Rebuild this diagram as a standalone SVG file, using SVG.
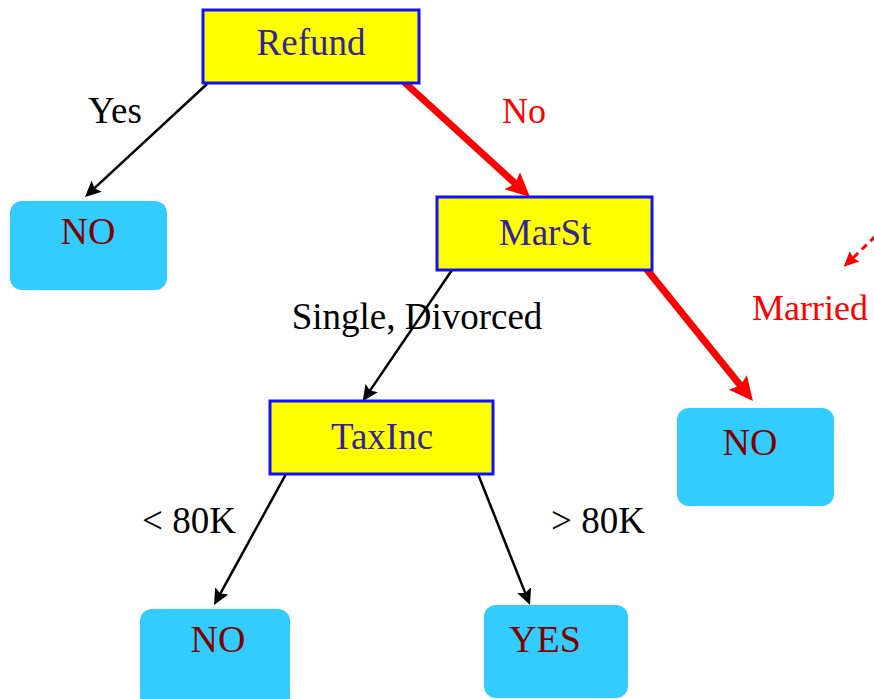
<svg xmlns="http://www.w3.org/2000/svg" width="874" height="699" viewBox="0 0 874 699">
  <style>
    .test { fill: #ffff00; stroke: #1010ff; stroke-width: 3; }
    .leaf { fill: #33ccff; }
    .tl { font-family: "Liberation Serif", "DejaVu Serif", serif; font-size: 37px; fill: #33229a; text-anchor: middle; }
    .ll { font-family: "Liberation Serif", "DejaVu Serif", serif; font-size: 38px; fill: #800000; text-anchor: middle; }
    .el { font-family: "Liberation Serif", "DejaVu Serif", serif; font-size: 37px; fill: #000000; text-anchor: middle; }
    .er { font-family: "Liberation Serif", "DejaVu Serif", serif; font-size: 36px; fill: #ff0000; }
    .edge { stroke: #000000; stroke-width: 2.5; fill: none; }
    .path { stroke: #ff0000; stroke-width: 7; fill: none; }
    .hint { stroke: #ff0000; stroke-width: 3; fill: none; stroke-dasharray: 7 5; }
  </style>
  <defs>
    <marker id="ah" markerUnits="userSpaceOnUse" viewBox="0 -8 17 16" markerWidth="17" markerHeight="16" refX="3" refY="0" orient="auto">
      <path d="M0,-7.5 L16,0 L0,7.5 L3,0 z" fill="#000000"/>
    </marker>
    <marker id="ahRed" markerUnits="userSpaceOnUse" viewBox="0 -12 25 24" markerWidth="25" markerHeight="24" refX="4" refY="0" orient="auto">
      <path d="M0,-11.5 L24,0 L0,11.5 L4,0 z" fill="#ff0000"/>
    </marker>
    <marker id="ahRedSmall" markerUnits="userSpaceOnUse" viewBox="0 -8 16 16" markerWidth="16" markerHeight="16" refX="2" refY="0" orient="auto">
      <path d="M0,-7 L15,0 L0,7 L2,0 z" fill="#ff0000"/>
    </marker>
  </defs>

  <!-- connectors -->
  <g id="connectors">
    <line class="edge" x1="207" y1="84" x2="94.5" y2="188.2" marker-end="url(#ah)"/>
    <line class="path" x1="403" y1="81" x2="515.2" y2="183.5" marker-end="url(#ahRed)"/>
    <line class="edge" x1="452" y1="270" x2="370" y2="390.6" marker-end="url(#ah)"/>
    <line class="path" x1="644" y1="266" x2="740.4" y2="385.5" marker-end="url(#ahRed)"/>
    <line class="edge" x1="286" y1="474" x2="220.3" y2="593.6" marker-end="url(#ah)"/>
    <line class="edge" x1="478" y1="474" x2="525.2" y2="592.9" marker-end="url(#ah)"/>
    <line class="hint" x1="884" y1="228" x2="853.1" y2="257.8" marker-end="url(#ahRedSmall)"/>
  </g>

  <!-- edge labels -->
  <g id="edge-labels">
    <text class="el" x="115" y="123">Yes</text>
    <text class="er" x="524" y="123" text-anchor="middle">No</text>
    <text class="el" x="417" y="329">Single, Divorced</text>
    <text class="er" x="752" y="320">Married</text>
    <text class="el" x="189" y="533">&lt; 80K</text>
    <text class="el" x="598" y="533">&gt; 80K</text>
  </g>

  <!-- test nodes -->
  <g id="refund">
    <rect class="test" x="203" y="10" width="216" height="73"/>
    <text class="tl" x="311" y="55">Refund</text>
  </g>
  <g id="marst">
    <rect class="test" x="437" y="197" width="215" height="73"/>
    <text class="tl" x="545" y="245">MarSt</text>
  </g>
  <g id="taxinc">
    <rect class="test" x="270" y="401" width="223" height="73"/>
    <text class="tl" x="382" y="449">TaxInc</text>
  </g>

  <!-- leaf nodes -->
  <g id="leaf-refund-yes">
    <rect class="leaf" x="10" y="201" width="157" height="89" rx="12"/>
    <text class="ll" x="88" y="244">NO</text>
  </g>
  <g id="leaf-married">
    <rect class="leaf" x="677" y="408" width="157" height="98" rx="12"/>
    <text class="ll" x="750" y="455">NO</text>
  </g>
  <g id="leaf-low-income">
    <rect class="leaf" x="140" y="609" width="150" height="100" rx="12"/>
    <text class="ll" x="218" y="652">NO</text>
  </g>
  <g id="leaf-high-income">
    <rect class="leaf" x="484" y="605" width="144" height="93" rx="12"/>
    <text class="ll" x="545" y="652">YES</text>
  </g>
</svg>
